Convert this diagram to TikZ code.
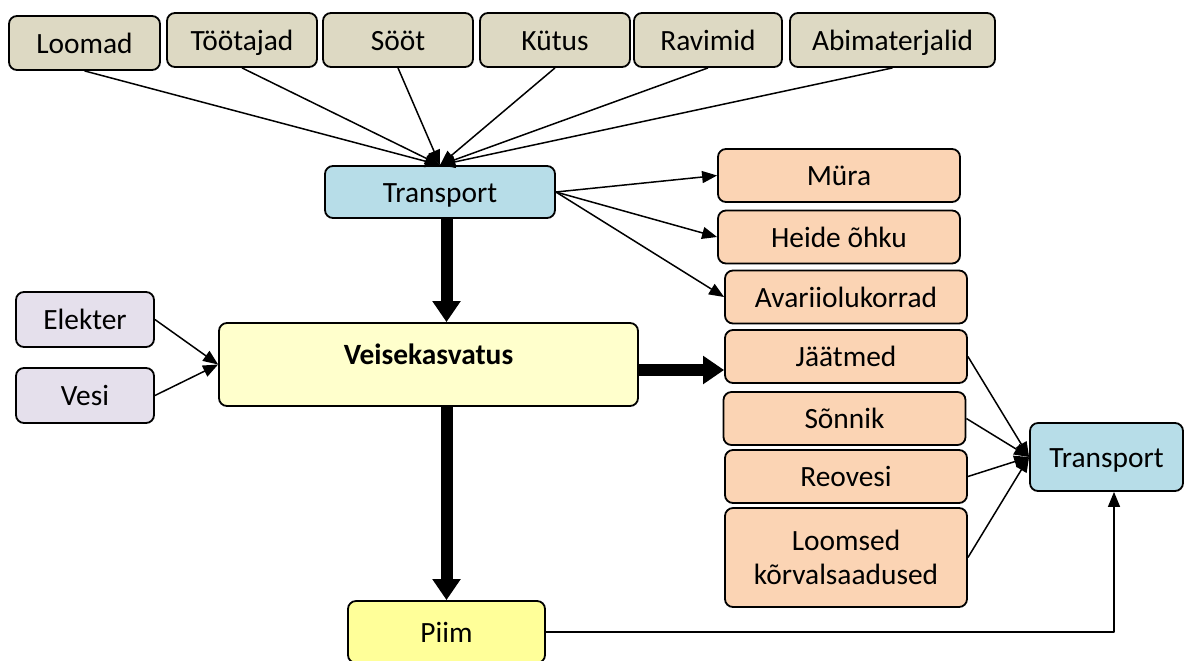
\documentclass[tikz,border=0pt]{standalone}
\usepackage{fontspec}
\setmainfont{Carlito}
\usetikzlibrary{arrows.meta}
\definecolor{beez}{HTML}{DDD9C3}
\definecolor{sinine}{HTML}{B7DDE8}
\definecolor{oranz}{HTML}{FBD4B4}
\definecolor{lilla}{HTML}{E5E0EC}
\definecolor{kollane}{HTML}{FFFFCC}
\definecolor{piimkollane}{HTML}{FFFF99}
\begin{document}
\begin{tikzpicture}[x=0.5pt,y=-0.5pt,line join=round,font=\fontsize{14.7}{17}\selectfont,
	>={Triangle[length=7.5pt,width=6pt]},
	kast/.style={draw,rounded corners=4pt,line width=0.9pt,inner sep=0pt,align=center,text height=10pt,text depth=0pt},
	sisend/.style={kast,fill=beez,minimum height=27pt},
	valjund/.style={kast,fill=oranz,minimum width=121pt,minimum height=26.5pt},
	nool/.style={->,line width=0.75pt},
	paks/.style={-{Triangle[length=10.5pt,width=13.5pt]},line width=6pt}]
	\useasboundingbox (0,0) rectangle (1187,660);
	% sisendid
	\node[sisend,minimum width=75.5pt] (loomad) at (84.5,43) {Loomad};
	\node[sisend,minimum width=75pt] (tootajad) at (242,40) {Töötajad};
	\node[sisend,minimum width=75pt] (soot) at (398,40) {Sööt};
	\node[sisend,minimum width=75pt] (kutus) at (555,40) {Kütus};
	\node[sisend,minimum width=74pt] (ravimid) at (708,40) {Ravimid};
	\node[sisend,minimum width=102.5pt] (abi) at (892.5,40) {Abimaterjalid};
	\node[kast,fill=sinine,minimum width=115pt,minimum height=26pt] (trans) at (440,192) {Transport};
	% valjundid
	\node[valjund] (mura) at (839,175.5) {Müra};
	\node[valjund] (heide) at (839,237) {Heide õhku};
	\node[valjund] (avarii) at (846,297) {Avariiolukorrad};
	\node[valjund] (jaatmed) at (846,356.5) {Jäätmed};
	\node[valjund] (sonnik) at (844.5,418.5) {Sõnnik};
	\node[valjund] (reovesi) at (846,476.5) {Reovesi};
	\node[valjund,minimum height=49.5pt,text height=,text depth=] (loomsed) at (846,557.5) {Loomsed\\kõrvalsaadused};
	\node[kast,fill=sinine,minimum width=76.5pt,minimum height=34pt] (trans2) at (1106.5,457) {Transport};
	% keskel
	\node[kast,fill=lilla,minimum width=69pt,minimum height=27.5pt] (elekter) at (85,319.5) {Elekter};
	\node[kast,fill=lilla,minimum width=69pt,minimum height=27.5pt] (vesi) at (85,395.5) {Vesi};
	\node[kast,fill=kollane,minimum width=209.5pt,minimum height=41.5pt,font=\fontsize{14.7}{17}\selectfont\bfseries,text height=10pt,text depth=10pt] (veis) at (428.5,364.5) {Veisekasvatus};
	\node[kast,fill=piimkollane,minimum width=98.5pt,minimum height=31pt] (piim) at (446.5,632) {Piim};
	% nooled
	\foreach \s in {loomad,tootajad,soot,kutus,ravimid,abi}
		\draw[nool] (\s.south) -- (trans.north);
	\foreach \s in {mura,heide,avarii}
		\draw[nool] (trans.east) -- (\s.west);
	\foreach \s in {jaatmed,sonnik,reovesi,loomsed}
		\draw[nool] (\s.east) -- (trans2.west);
	\draw[nool] (elekter.east) -- (veis.west);
	\draw[nool] (vesi.east) -- (veis.west);
	\draw[nool] (piim.east) -| ([xshift=3.75pt]trans2.south);
	\draw[paks] (trans.south -| piim.north) -- (veis.north -| piim.north);
	\draw[paks] (veis.south -| piim.north) -- (piim.north);
	\draw[paks] ([yshift=-2.75pt]veis.east) -- ([yshift=-2.75pt]veis.east -| jaatmed.west);
\end{tikzpicture}
\end{document}
